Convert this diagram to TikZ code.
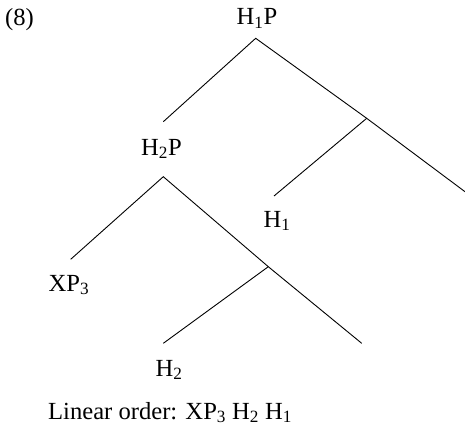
\documentclass[tikz,border=0pt]{standalone}
\usepackage{fontspec}
\setmainfont{Liberation Serif}
\tikzset{
  lbl/.style={anchor=base, inner sep=0pt, font=\fontsize{24.6}{28}\selectfont},
  branch/.style={line width=0.9pt, black}
}
\begin{document}
\begin{tikzpicture}[x=1pt,y=-1pt]
\useasboundingbox (0,0) rectangle (465,428);
% labels
\node[lbl, anchor=base west] (ex) at (5,26) {(8)};
\node[lbl] (h1p) at (257,25) {H\textsubscript{1}P};
\node[lbl] (h2p) at (161.5,155) {H\textsubscript{2}P};
\node[lbl] (h1) at (277,227) {H\textsubscript{1}};
\node[lbl] (xp3) at (69,291) {XP\textsubscript{3}};
\node[lbl] (h2) at (169,376) {H\textsubscript{2}};
\node[lbl, anchor=base west] (lin) at (48,419) {Linear order: XP\textsubscript{3} H\textsubscript{2} H\textsubscript{1}};
% branch points
\coordinate (t1) at (255.7,38.3);
\coordinate (l1) at (163.3,121.7);
\coordinate (m1) at (366.7,118.3);
\coordinate (r1) at (465,191.7);
\coordinate (e1) at (274,196);
\coordinate (t2) at (163.3,176.7);
\coordinate (l2) at (70.7,259.3);
\coordinate (m2) at (268.3,266.7);
\coordinate (r2) at (361.7,343.3);
\coordinate (e2) at (163.3,343.3);
% branches
\draw[branch] (l1) -- (t1) -- (m1) -- (r1);
\draw[branch] (m1) -- (e1);
\draw[branch] (l2) -- (t2) -- (m2) -- (r2);
\draw[branch] (m2) -- (e2);
\end{tikzpicture}
\end{document}
